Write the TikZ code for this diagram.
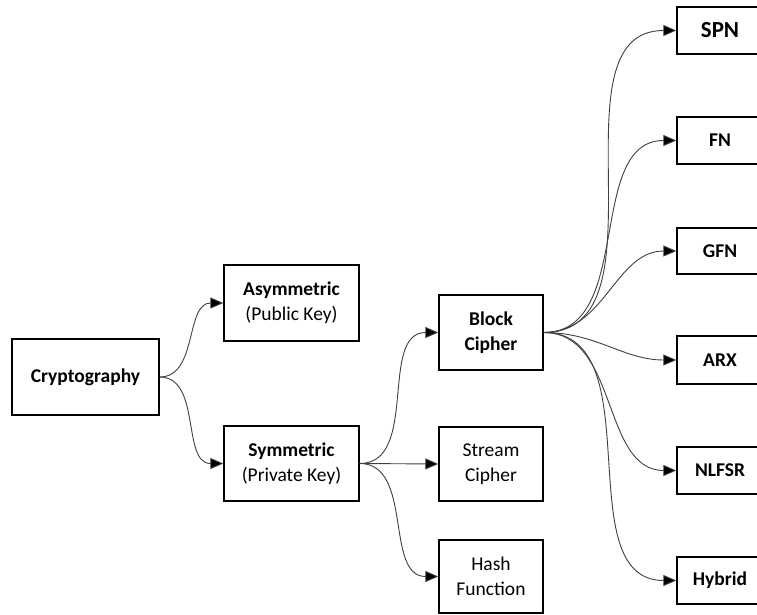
\documentclass[tikz,border=0pt]{standalone}
\usepackage{fontspec}
\setmainfont{Carlito}
\usetikzlibrary{arrows.meta}
\tikzset{
  box/.style={draw=black, line width=1.4pt, fill=white, align=center, inner sep=0pt,
    font=\fontsize{19.5}{25}\selectfont},
  conn/.style={draw=black!75, line width=0.9pt, -{Triangle[length=13pt,width=11pt,fill=black]}},
  curve/.style={conn, out=0, in=180}
}
\begin{document}
\begin{tikzpicture}[x=1pt,y=-1pt]
\clip (0,0) rectangle (757,615);
\fill[white] (0,0) rectangle (757,615);
\node[box, minimum width=147pt, minimum height=76pt] (crypto) at (85.5,377) {\textbf{Cryptography}};
\node[box, minimum width=135pt, minimum height=76pt] (asym) at (291.5,303) {\textbf{Asymmetric}\\(Public Key)};
\node[box, minimum width=135pt, minimum height=75pt] (sym) at (291.5,463.5) {\textbf{Symmetric}\\(Private Key)};
\node[box, minimum width=104pt, minimum height=75pt] (block) at (491,332.5) {\textbf{Block}\\\textbf{Cipher}};
\node[box, minimum width=104pt, minimum height=74pt] (stream) at (491,464) {Stream\\Cipher};
\node[box, minimum width=104pt, minimum height=73pt] (hash) at (491,576.5) {Hash\\Function};
\node[box, minimum width=86pt, minimum height=47pt, font=\fontsize{23}{28}\selectfont\bfseries] (spn) at (720,30.5) {SPN};
\node[box, minimum width=86pt, minimum height=47pt, font=\fontsize{19.5}{24}\selectfont\bfseries] (fn) at (720,140.5) {FN};
\node[box, minimum width=86pt, minimum height=46pt, font=\fontsize{19.5}{24}\selectfont\bfseries] (gfn) at (720,251) {GFN};
\node[box, minimum width=86pt, minimum height=48pt, font=\fontsize{19.5}{24}\selectfont\bfseries] (arx) at (720,360) {ARX};
\node[box, minimum width=86pt, minimum height=47pt, font=\fontsize{19.5}{24}\selectfont\bfseries] (nlfsr) at (720,470.5) {NLFSR};
\node[box, minimum width=86pt, minimum height=47pt, font=\fontsize{19.5}{24}\selectfont\bfseries] (hybrid) at (720,580.5) {Hybrid};

\draw[curve] (crypto.east) to (asym.west);
\draw[curve] (crypto.east) to (sym.west);
\draw[curve] (sym.east) to (block.west);
\draw[conn] (sym.east) -- (stream.west);
\draw[curve] (sym.east) to (hash.west);
\draw[curve] (block.east) to (spn.west);
\draw[curve] (block.east) to (fn.west);
\draw[curve] (block.east) to (gfn.west);
\draw[curve] (block.east) to (arx.west);
\draw[curve] (block.east) to (nlfsr.west);
\draw[curve] (block.east) to (hybrid.west);
\end{tikzpicture}
\end{document}
